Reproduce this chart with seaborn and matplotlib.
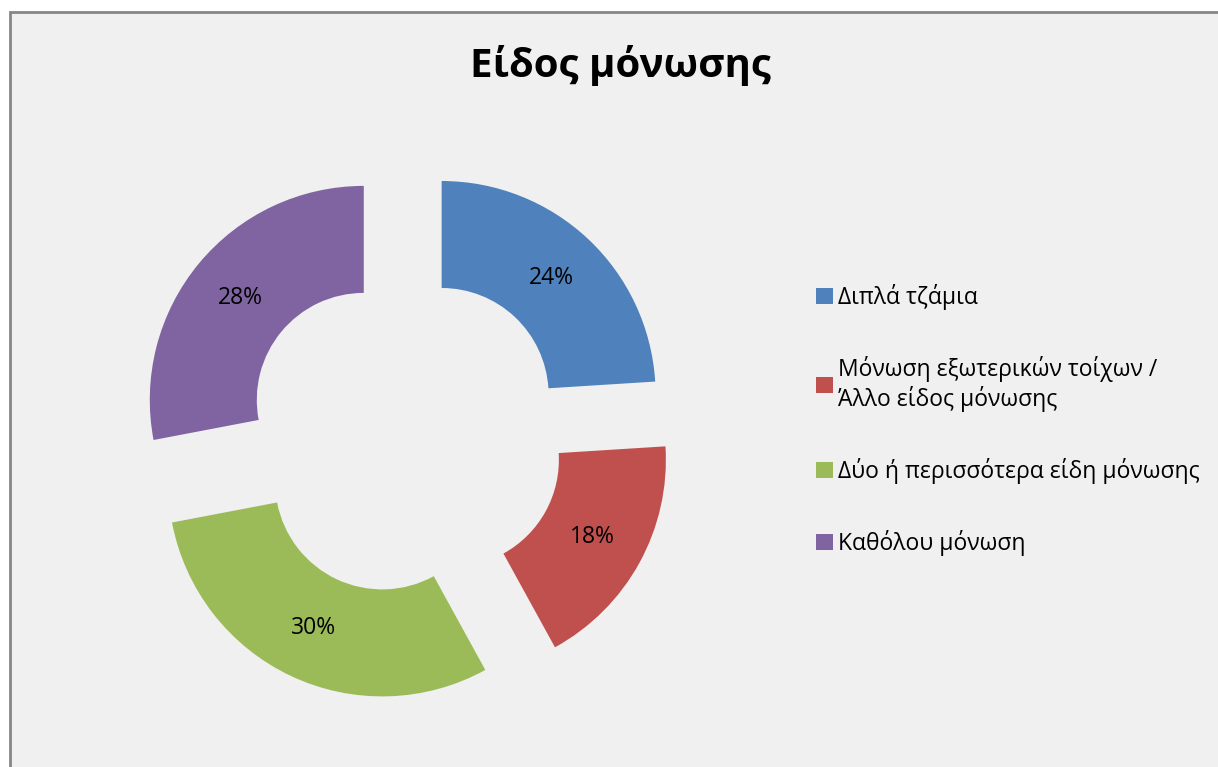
import matplotlib
matplotlib.use("Agg")
import matplotlib.pyplot as plt
from matplotlib.patches import Rectangle
import seaborn as sns

# Data
labels = ["Διπλά τζάμια",
          "Μόνωση εξωτερικών τοίχων /\nΆλλο είδος μόνωσης",
          "Δύο ή περισσότερα είδη μόνωσης",
          "Καθόλου μόνωση"]
values = [24, 18, 30, 28]
colors = ["#4F81BD", "#C0504D", "#9BBB59", "#8064A2"]
title = "Είδος μόνωσης"

sns.set_theme(style="white")
plt.rcParams['font.family'] = ['Open Sans', 'DejaVu Sans']
plt.rcParams['text.color'] = 'black'

W, H = 1218, 767
fig = plt.figure(figsize=(W / 100, H / 100), dpi=100)
fig.patch.set_facecolor("white")

# chart area background with grey border
fig.patches.append(Rectangle((9.5 / W, -0.05), 1.2, 1 - 11.5 / H + 0.05,
                             transform=fig.transFigure, facecolor="#F0F0F0",
                             edgecolor="#868686", linewidth=2, zorder=-5))

# axes over the whole figure, 214 px per data unit, centre at pixel (405, 434)
ax = fig.add_axes([0, 0, 1, 1])
ax.set_facecolor("none")
ax.set_zorder(2)
scale = 214.0
cx, cy = 405.0, 434.0

wedges, texts, autotexts = ax.pie(
    values, colors=colors, startangle=90, counterclock=False,
    explode=[0.25] * len(values), radius=1.0,
    wedgeprops=dict(width=0.5, linewidth=0),
    autopct="%.0f%%", pctdistance=0.75,
    textprops=dict(fontsize=16.5, color="black"))
ax.set_aspect("auto")
ax.set_xlim(-cx / scale, (W - cx) / scale)
ax.set_ylim(-(H - cy) / scale, cy / scale)
ax.axis("off")

fig.text(620 / W, 1 - 66 / H, title, ha="center", va="center",
         fontsize=29, fontweight="bold", color="black")

leg = fig.legend(wedges, labels, loc="center left",
                 bbox_to_anchor=(805 / W, 1 - 420 / H), frameon=False,
                 fontsize=16.5, handlelength=0.7, handleheight=0.7,
                 handletextpad=0.25, labelspacing=2.0, borderpad=0)
for t in leg.get_texts():
    t.set_color("black")

fig.savefig("out.png", dpi=100)
